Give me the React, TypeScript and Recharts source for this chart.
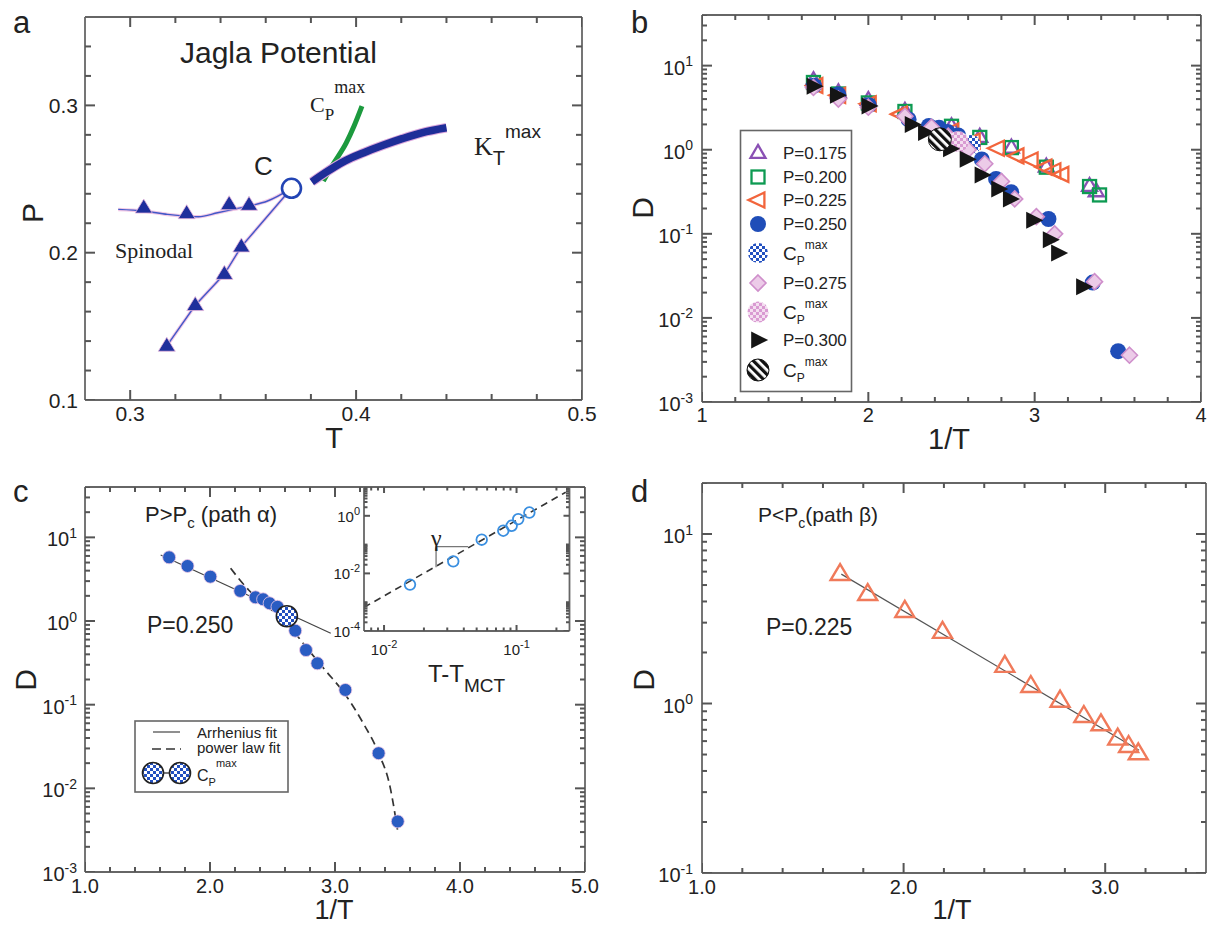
import React from 'react';
import { ComposedChart, Scatter, Line, XAxis, YAxis } from 'recharts';

const SANS = '"Liberation Sans", Arial, Helvetica, sans-serif';
const SERIF = '"Liberation Serif", "Times New Roman", serif';
const AX = '#666666';
const TK = '#555555';
const TX = '#222222';

// ---------------- Panel a : phase diagram ----------------
const spinUpperT = [0.2947, 0.306, 0.3165, 0.3302, 0.3387, 0.3455, 0.354, 0.3608, 0.3714];
const spinUpperP = [0.2294, 0.2283, 0.226, 0.2244, 0.2271, 0.2294, 0.2321, 0.2351, 0.2437];
const spinUpperMarkT = [0.306, 0.325, 0.3438, 0.3526];
const spinUpperMarkP = [0.2305, 0.2267, 0.2328, 0.2324];
const spinLowerT = [0.3162, 0.3288, 0.3417, 0.3492, 0.3714];
const spinLowerP = [0.1367, 0.1643, 0.1855, 0.2041, 0.2437];
const spinLowerMarkT = [0.3162, 0.3288, 0.3417, 0.3492];
const spinLowerMarkP = [0.1367, 0.1643, 0.1855, 0.2041];
const criticalT = [0.3714];
const criticalP = [0.2437];
const ktMaxT = [0.3804, 0.3864, 0.3949, 0.4034, 0.4119, 0.4204, 0.429, 0.44];
const ktMaxP = [0.248, 0.2543, 0.2622, 0.2679, 0.2729, 0.2774, 0.2814, 0.2848];
const cpMaxT = [0.3855, 0.3898, 0.3957, 0.3991, 0.4026];
const cpMaxP = [0.2486, 0.26, 0.2747, 0.286, 0.2995];

const aXMajor = [0.3, 0.4, 0.5];
const aXLabels = ['0.3', '0.4', '0.5'];
const aYMajor = [0.1, 0.2, 0.3];
const aYLabels = ['0.1', '0.2', '0.3'];

// ---------------- Panel b : D vs 1/T, all pressures ----------------
const b175X = [1.67, 1.82, 2.0, 2.22, 2.5, 2.67, 2.86, 3.07, 3.33, 3.37];
const b175D = [6.7, 4.8, 3.9, 2.9, 1.9, 1.42, 1.06, 0.63, 0.37, 0.32];
const b200X = [1.67, 1.82, 2.0, 2.22, 2.5, 2.67, 2.86, 3.07, 3.33, 3.39];
const b200D = [6.3, 4.6, 3.6, 2.85, 1.9, 1.4, 1.06, 0.62, 0.365, 0.29];
const b225X = [1.685, 1.822, 2.006, 2.193, 2.502, 2.631, 2.776, 2.894, 2.979, 3.062, 3.116, 3.164];
const b225D = [5.81, 4.43, 3.52, 2.65, 1.67, 1.27, 1.04, 0.845, 0.755, 0.621, 0.562, 0.509];
const b250X = [1.673, 1.82, 2.003, 2.242, 2.364, 2.425, 2.477, 2.54, 2.682, 2.768, 2.859, 3.083, 3.349, 3.502];
const b250D = [5.77, 4.55, 3.39, 2.29, 1.92, 1.82, 1.63, 1.48, 0.767, 0.45, 0.312, 0.15, 0.0263, 0.00402];
const cp250X = [2.615];
const cp250D = [1.14];
const b275X = [1.67, 1.82, 2.0, 2.22, 2.38, 2.48, 2.6, 2.7, 2.8, 2.88, 3.01, 3.12, 3.36, 3.57];
const b275D = [5.5, 4.0, 3.2, 2.5, 1.85, 1.45, 1.0, 0.68, 0.42, 0.26, 0.16, 0.1, 0.027, 0.0036];
const cp275X = [2.54];
const cp275D = [1.25];
const b300X = [1.67, 1.81, 2.0, 2.26, 2.34, 2.49, 2.59, 2.68, 2.78, 2.85, 2.99, 3.09, 3.14, 3.29];
const b300D = [5.7, 4.45, 3.3, 2.0, 1.6, 1.03, 0.77, 0.5, 0.34, 0.26, 0.145, 0.085, 0.059, 0.0235];
const cp300X = [2.43];
const cp300D = [1.33];

const bXMajor = [1, 2, 3, 4];
const bXLabels = ['1', '2', '3', '4'];
const bYMajor = [0.001, 0.01, 0.1, 1, 10];

// ---------------- Panel c : P = 0.250 with fits ----------------
const arrheniusX = [1.6055, 2.966];
const arrheniusD = [6.15, 0.714];
const powerX = [2.165, 2.309, 2.462, 2.615, 2.768, 2.92, 3.073, 3.226, 3.349, 3.44, 3.5];
const powerD = [4.27, 2.35, 1.49, 0.94, 0.49, 0.26, 0.138, 0.06, 0.0263, 0.0105, 0.0032];
const cXMajor = [1, 2, 3, 4, 5];
const cXLabels = ['1.0', '2.0', '3.0', '4.0', '5.0'];

// inset: D vs T - T_MCT
const insetX = [0.0157, 0.0333, 0.0546, 0.0794, 0.0919, 0.103, 0.125];
const insetD = [0.00409, 0.0262, 0.148, 0.303, 0.451, 0.769, 1.3];
const insetFitX = [0.00706, 0.235];
const insetFitD = [0.00066, 6.6];
const gammaX = [0.0247, 0.0247, 0.0432];
const gammaD = [0.0163, 0.0846, 0.0846];
const insetXMajor = [0.01, 0.1];
const insetYMajor = [0.0001, 0.01, 1];

// ---------------- Panel d : P = 0.225 ----------------
const dX = [1.685, 1.822, 2.006, 2.193, 2.502, 2.631, 2.776, 2.894, 2.979, 3.062, 3.116, 3.164];
const dD = [5.81, 4.43, 3.52, 2.65, 1.67, 1.27, 1.04, 0.845, 0.755, 0.621, 0.562, 0.509];
const dFitX = [1.691, 3.168];
const dFitD = [5.8, 0.53];
const dXMajor = [1, 2, 3];
const dXLabels = ['1.0', '2.0', '3.0'];
const dYMajor = [0.1, 1, 10];

// ---------------- helpers ----------------
const pts = (xs: number[], ys: number[]) => xs.map((x, i) => ({ x, y: ys[i] }));
const range = (a: number, b: number, s: number) => {
  const n = Math.round((b - a) / s);
  return Array.from({ length: n + 1 }, (_, i) => Number((a + i * s).toFixed(6)));
};
const logTicks = (kmin: number, kmax: number, hi: number) => {
  const out: number[] = [];
  for (let k = kmin; k <= kmax; k++)
    for (let m = 1; m <= 9; m++) {
      const v = Number((m * Math.pow(10, k)).toPrecision(6));
      if (v <= hi * 1.000001) out.push(v);
    }
  return out;
};
const isMajor = (v: number, major: number[]) => major.some((m) => Math.abs(m - v) <= Math.abs(m) * 1e-6);

type LabelFn = (v: number) => React.ReactNode;
const linLabel = (major: number[], labels: string[]): LabelFn => (v) => {
  const i = major.findIndex((m) => Math.abs(m - v) <= Math.abs(m) * 1e-6);
  return i >= 0 ? labels[i] : '';
};
const powLabel = (supFs: number, supDy: number): LabelFn => (v) => {
  const k = Math.round(Math.log10(v));
  return [
    <tspan key="b">10</tspan>,
    <tspan key="s" fontSize={supFs} dy={-supDy}>{String(k)}</tspan>,
  ];
};

const mkLabel = (side: 'bottom' | 'left', major: number[], label: LabelFn, fs: number, off: number, dy = 0) => (p: any) => {
  const x = Number(p.x);
  const y = Number(p.y);
  const v = Number(p.payload.value);
  if (!isMajor(v, major)) return <g />;
  const content = label(v);
  if (side === 'bottom')
    return (
      <text x={x} y={y + off} textAnchor="middle" fontSize={fs} fontFamily={SANS} fill={TX} stroke="none">
        {content}
      </text>
    );
  return (
    <text x={x - off} y={y + dy} textAnchor="end" fontSize={fs} fontFamily={SANS} fill={TX} stroke="none">
      {content}
    </text>
  );
};

type FrameOpt = {
  xDomain: [number, number];
  yDomain: [number, number];
  xLog?: boolean;
  yLog?: boolean;
  xTicks: number[];
  xMajor: number[];
  yTicks: number[];
  yMajor: number[];
  xLabel: LabelFn;
  yLabel: LabelFn;
  yWidth: number;
  xHeight: number;
  len: number;
  mlen: number;
  fs: number;
  xOff: number;
  yOff: number;
  yDy: number;
};
function frameAxes(o: FrameOpt) {
  const base: any = { type: 'number', allowDataOverflow: true, interval: 0 };
  const line = { stroke: AX, strokeWidth: 1.8 };
  const lab: any = { ...base, tickSize: 0, tickMargin: 0, tickLine: false, axisLine: line };
  const xs = o.xLog ? 'log' : 'linear';
  const ys = o.yLog ? 'log' : 'linear';
  const T = 0.4;
  return [
    <XAxis key="xb" xAxisId={0} dataKey="x" orientation="bottom" height={o.xHeight} domain={o.xDomain} scale={xs}
      ticks={o.xTicks} {...lab} tick={mkLabel('bottom', o.xMajor, o.xLabel, o.fs, o.xOff)} />,
    <YAxis key="yl" yAxisId={0} dataKey="y" orientation="left" width={o.yWidth} domain={o.yDomain} scale={ys}
      ticks={o.yTicks} {...lab} tick={mkLabel('left', o.yMajor, o.yLabel, o.fs, o.yOff, o.yDy)} />,
    <XAxis key="xt" xAxisId="t" orientation="top" mirror height={T} domain={o.xDomain} scale={xs}
      ticks={o.xMajor} {...base} tick={false} tickLine={false} axisLine={line} />,
    <YAxis key="yr" yAxisId="r" orientation="right" mirror width={T} domain={o.yDomain} scale={ys}
      ticks={o.yMajor} {...base} tick={false} tickLine={false} axisLine={line} />,
  ];
}

// inward tick marks, placed through the chart scales at the domain edges
function tickMarks(o: FrameOpt) {
  const [x0, x1] = o.xDomain;
  const [y0, y1] = o.yDomain;
  const xMaj = o.xTicks.filter((v) => isMajor(v, o.xMajor));
  const xMin = o.xTicks.filter((v) => !isMajor(v, o.xMajor));
  const yMaj = o.yTicks.filter((v) => isMajor(v, o.yMajor));
  const yMin = o.yTicks.filter((v) => !isMajor(v, o.yMajor));
  const ln = (dx: number, dy: number) => (p: any) => (
    <path d={`M${p.cx},${p.cy}L${p.cx + dx},${p.cy + dy}`} stroke={TK} strokeWidth={2} fill="none" />
  );
  const mk = (key: string, data: any[], dx: number, dy: number) => (
    <Scatter key={key} data={data} isAnimationActive={false} legendType="none" shape={ln(dx, dy)} />
  );
  return [
    mk('tb1', xMaj.map((x) => ({ x, y: y0 })), 0, -o.len),
    mk('tb2', xMin.map((x) => ({ x, y: y0 })), 0, -o.mlen),
    mk('tt1', xMaj.map((x) => ({ x, y: y1 })), 0, o.len),
    mk('tt2', xMin.map((x) => ({ x, y: y1 })), 0, o.mlen),
    mk('tl1', yMaj.map((y) => ({ x: x0, y })), o.len, 0),
    mk('tl2', yMin.map((y) => ({ x: x0, y })), o.mlen, 0),
    mk('tr1', yMaj.map((y) => ({ x: x1, y })), -o.len, 0),
    mk('tr2', yMin.map((y) => ({ x: x1, y })), -o.mlen, 0),
  ];
}

// ---------------- marker shapes ----------------
const TriUp = ({ cx, cy, w = 15, h = 13, stroke = 'none', fill = 'none', sw = 2.2 }: any) => (
  <path d={`M${cx},${cy - h * 0.62}L${cx + w / 2},${cy + h * 0.38}L${cx - w / 2},${cy + h * 0.38}Z`}
    fill={fill} stroke={stroke} strokeWidth={sw} />
);
const TriLeft = ({ cx, cy, w = 15, h = 14, stroke = 'none', fill = 'none', sw = 2.2 }: any) => (
  <path d={`M${cx - w * 0.6},${cy}L${cx + w * 0.4},${cy - h / 2}L${cx + w * 0.4},${cy + h / 2}Z`}
    fill={fill} stroke={stroke} strokeWidth={sw} />
);
const TriRight = ({ cx, cy, w = 15, h = 15, stroke = 'none', fill = 'none', sw = 0 }: any) => (
  <path d={`M${cx + w * 0.6},${cy}L${cx - w * 0.4},${cy - h / 2}L${cx - w * 0.4},${cy + h / 2}Z`}
    fill={fill} stroke={stroke} strokeWidth={sw} />
);
const Sq = ({ cx, cy, s = 12, stroke = '#0a9a50', sw = 2.2 }: any) => (
  <rect x={cx - s / 2} y={cy - s / 2} width={s} height={s} fill="none" stroke={stroke} strokeWidth={sw} />
);
const Dia = ({ cx, cy, s = 15, fill = '#eccbe8', stroke = '#cf8fcb', sw = 1.6 }: any) => (
  <path d={`M${cx},${cy - s / 2}L${cx + s / 2},${cy}L${cx},${cy + s / 2}L${cx - s / 2},${cy}Z`}
    fill={fill} stroke={stroke} strokeWidth={sw} />
);
const Dot = ({ cx, cy, r = 7, fill = '#1f4db8', stroke = 'none', sw = 0 }: any) => (
  <circle cx={cx} cy={cy} r={r} fill={fill} stroke={stroke} strokeWidth={sw} />
);

const BLUE = '#1f4db8';
const PURPLE = '#8a50b4';
const GREEN = '#0d9a52';
const ORANGE = '#f2653c';
const SALMON = '#f07a5a';

const sh = (f: (cx: number, cy: number) => any) => (p: any) => f(p.cx, p.cy);

// ---------------- panel frames ----------------
const frameA: FrameOpt = {
  xDomain: [0.28, 0.5], yDomain: [0.1, 0.36],
  xTicks: range(0.3, 0.48, 0.02), xMajor: aXMajor, yTicks: range(0.12, 0.34, 0.02), yMajor: aYMajor,
  xLabel: linLabel(aXMajor, aXLabels), yLabel: linLabel(aYMajor, aYLabels),
  yWidth: 85, xHeight: 30, len: 10, mlen: 6, fs: 21, xOff: 21, yOff: 7, yDy: 7.5,
};
const frameB: FrameOpt = {
  xDomain: [1, 4], yDomain: [0.001, 40], yLog: true,
  xTicks: range(1.2, 3.8, 0.2), xMajor: bXMajor, yTicks: logTicks(-3, 1, 40).slice(1), yMajor: bYMajor,
  xLabel: linLabel(bXMajor, bXLabels), yLabel: powLabel(14, 8.5),
  yWidth: 102, xHeight: 30, len: 10, mlen: 5, fs: 20, xOff: 20, yOff: 9, yDy: 9,
};
const frameC: FrameOpt = {
  xDomain: [1, 5], yDomain: [0.001, 40], yLog: true,
  xTicks: range(1.2, 4.8, 0.2), xMajor: cXMajor, yTicks: logTicks(-3, 1, 40).slice(1), yMajor: bYMajor,
  xLabel: linLabel(cXMajor, cXLabels), yLabel: powLabel(14, 8.5),
  yWidth: 85, xHeight: 30, len: 10, mlen: 5, fs: 20, xOff: 21, yOff: 8, yDy: 9,
};
const frameInset: FrameOpt = {
  xDomain: [0.00706, 0.251], yDomain: [0.0001, 10], xLog: true, yLog: true,
  xTicks: [0.008, 0.009, ...logTicks(-2, -2, 1), 0.1, 0.2], xMajor: insetXMajor,
  yTicks: [...logTicks(-4, -4, 10).slice(1), 0.001, ...logTicks(-2, -2, 10), 0.1, ...logTicks(0, 0, 10)], yMajor: insetYMajor,
  xLabel: powLabel(11, 7), yLabel: powLabel(11, 7),
  yWidth: 64, xHeight: 30, len: 6, mlen: 3.5, fs: 15, xOff: 24, yOff: 4, yDy: 6,
};
const frameD: FrameOpt = {
  xDomain: [1, 3.5], yDomain: [0.1, 20], yLog: true,
  xTicks: range(1.2, 3.4, 0.2), xMajor: dXMajor, yTicks: logTicks(-1, 1, 20).slice(1), yMajor: dYMajor,
  xLabel: linLabel(dXMajor, dXLabels), yLabel: powLabel(14, 8.5),
  yWidth: 102, xHeight: 30, len: 10, mlen: 5, fs: 20, xOff: 21, yOff: 9, yDy: 9,
};
const withMaj = (f: FrameOpt): FrameOpt => ({
  ...f,
  xTicks: Array.from(new Set([...f.xMajor, ...f.xTicks])).sort((a, b) => a - b),
  yTicks: Array.from(new Set([...f.yMajor, ...f.yTicks])).sort((a, b) => a - b),
});

// ---------------- panels ----------------
function PanelA() {
  const lp: any = { dataKey: 'y', dot: false, activeDot: false, isAnimationActive: false, legendType: 'none' };
  const f = withMaj(frameA);
  return (
    <ComposedChart width={600} height={460} margin={{ top: 17, right: 18, bottom: 30, left: 0 }}>
      {frameAxes(f)}
      {tickMarks(f)}
      <Line {...lp} data={pts(spinUpperT, spinUpperP)} type="monotone" stroke="#f2c8e6" strokeWidth={3.5} />
      <Line {...lp} data={pts(spinUpperT, spinUpperP)} type="monotone" stroke="#4258c8" strokeWidth={1.4} />
      <Line {...lp} data={pts(spinLowerT, spinLowerP)} type="linear" stroke="#f2c8e6" strokeWidth={3.5} />
      <Line {...lp} data={pts(spinLowerT, spinLowerP)} type="linear" stroke="#4258c8" strokeWidth={1.4} />
      <Line {...lp} data={pts(cpMaxT, cpMaxP)} type="monotone" stroke="#1c9a3e" strokeWidth={5} />
      <Line {...lp} data={pts(ktMaxT, ktMaxP)} type="monotone" stroke="#dba6dc" strokeWidth={9.5} />
      <Line {...lp} data={pts(ktMaxT, ktMaxP)} type="monotone" stroke="#1e2e98" strokeWidth={7.5} />
      <Scatter data={pts(spinUpperMarkT, spinUpperMarkP)} isAnimationActive={false}
        shape={sh((cx, cy) => <TriUp cx={cx} cy={cy} w={17} h={14} fill="#1e2f9c" stroke="#e9b8dd" sw={0.8} />)} />
      <Scatter data={pts(spinLowerMarkT, spinLowerMarkP)} isAnimationActive={false}
        shape={sh((cx, cy) => <TriUp cx={cx} cy={cy} w={17} h={14} fill="#1e2f9c" stroke="#e9b8dd" sw={0.8} />)} />
      <Scatter data={pts(criticalT, criticalP)} isAnimationActive={false}
        shape={sh((cx, cy) => <circle cx={cx} cy={cy} r={9.5} fill="#fff" stroke="#2244b4" strokeWidth={2.6} />)} />
    </ComposedChart>
  );
}

function PanelB() {
  const f = withMaj(frameB);
  return (
    <ComposedChart width={611} height={460} margin={{ top: 15, right: 10, bottom: 28, left: 0 }}>
      {frameAxes(f)}
      {tickMarks(f)}
      <Scatter data={pts(b175X, b175D)} isAnimationActive={false}
        shape={sh((cx, cy) => <TriUp cx={cx} cy={cy} w={15} h={13} stroke={PURPLE} sw={2.3} />)} />
      <Scatter data={pts(b200X, b200D)} isAnimationActive={false}
        shape={sh((cx, cy) => <Sq cx={cx} cy={cy} s={13} stroke={GREEN} sw={2.3} />)} />
      <Scatter data={pts(b225X, b225D)} isAnimationActive={false}
        shape={sh((cx, cy) => <TriLeft cx={cx} cy={cy} w={16} h={15} stroke={ORANGE} sw={2.3} />)} />
      <Scatter data={pts(b250X, b250D)} isAnimationActive={false}
        shape={sh((cx, cy) => <Dot cx={cx} cy={cy} r={8} fill={BLUE} />)} />
      <Scatter data={pts(cp250X, cp250D)} isAnimationActive={false}
        shape={sh((cx, cy) => <Dot cx={cx} cy={cy} r={10} fill="url(#chkBlue)" />)} />
      <Scatter data={pts(b275X, b275D)} isAnimationActive={false}
        shape={sh((cx, cy) => <Dia cx={cx} cy={cy} s={16} />)} />
      <Scatter data={pts(cp275X, cp275D)} isAnimationActive={false}
        shape={sh((cx, cy) => <Dot cx={cx} cy={cy} r={10.5} fill="url(#chkPink)" />)} />
      <Scatter data={pts(b300X, b300D)} isAnimationActive={false}
        shape={sh((cx, cy) => <TriRight cx={cx} cy={cy} w={17} h={17} fill="#151515" />)} />
      <Scatter data={pts(cp300X, cp300D)} isAnimationActive={false}
        shape={sh((cx, cy) => <Dot cx={cx} cy={cy} r={11.5} fill="url(#hatch)" stroke="#111" sw={1} />)} />
    </ComposedChart>
  );
}

function PanelC() {
  const lp: any = { dataKey: 'y', dot: false, activeDot: false, isAnimationActive: false, legendType: 'none' };
  const f = withMaj(frameC);
  return (
    <ComposedChart width={600} height={465} margin={{ top: 27, right: 15, bottom: 23, left: 0 }}>
      {frameAxes(f)}
      {tickMarks(f)}
      <Scatter data={pts(b250X, b250D)} isAnimationActive={false}
        shape={sh((cx, cy) => <Dot cx={cx} cy={cy} r={6.5} fill="#2a5cc2" stroke="#f0c8e4" sw={0.8} />)} />
      <Line {...lp} data={pts(arrheniusX, arrheniusD)} type="linear" stroke="#444" strokeWidth={1.2} />
      <Line {...lp} data={pts(powerX, powerD)} type="monotone" stroke="#333" strokeWidth={1.7} strokeDasharray="8 5" />
      <Scatter data={pts(cp250X, cp250D)} isAnimationActive={false}
        shape={sh((cx, cy) => <Dot cx={cx} cy={cy} r={10.5} fill="url(#chkBlue)" stroke="#222" sw={1.6} />)} />
    </ComposedChart>
  );
}

function Inset() {
  const lp: any = { dataKey: 'y', dot: false, activeDot: false, isAnimationActive: false, legendType: 'none' };
  const f = withMaj(frameInset);
  return (
    <ComposedChart width={280} height={200} margin={{ top: 17, right: 10.5, bottom: 9, left: 0 }}>
      {frameAxes(f)}
      {tickMarks(f)}
      <Line {...lp} data={pts(insetFitX, insetFitD)} type="linear" stroke="#333" strokeWidth={1.6} strokeDasharray="7 5" />
      <Line {...lp} data={pts(gammaX, gammaD)} type="linear" stroke="#777" strokeWidth={1.3} />
      <Scatter data={pts(insetX, insetD)} isAnimationActive={false}
        shape={sh((cx, cy) => <circle cx={cx} cy={cy} r={5.3} fill="none" stroke="#3a8fe0" strokeWidth={1.8} />)} />
    </ComposedChart>
  );
}

function PanelD() {
  const lp: any = { dataKey: 'y', dot: false, activeDot: false, isAnimationActive: false, legendType: 'none' };
  const f = withMaj(frameD);
  return (
    <ComposedChart width={611} height={465} margin={{ top: 23, right: 5, bottom: 22, left: 0 }}>
      {frameAxes(f)}
      {tickMarks(f)}
      <Scatter data={pts(dX, dD)} isAnimationActive={false}
        shape={sh((cx, cy) => <TriUp cx={cx} cy={cy} w={19} h={16} stroke={SALMON} sw={2.4} />)} />
      <Line {...lp} data={pts(dFitX, dFitD)} type="linear" stroke="#555" strokeWidth={1.2} />
    </ComposedChart>
  );
}

// ---------------- text overlay ----------------
const Cp = ({ x, y, fs, sfs, subDy, supDy, family = SANS }: any) => (
  <text x={x} y={y} fontSize={fs} fontFamily={family} fill={TX}>
    C<tspan fontSize={sfs} dy={subDy}>P</tspan>
    <tspan fontSize={sfs} dy={-supDy}>max</tspan>
  </text>
);

function Overlay() {
  const t = (x: number, y: number, s: string, fs: number, extra: any = {}) => (
    <text x={x} y={y} fontSize={fs} fontFamily={SANS} fill={TX} {...extra}>{s}</text>
  );
  const vt = (x: number, y: number, s: string, fs: number) => (
    <text transform={`translate(${x},${y}) rotate(-90)`} textAnchor="middle" dy="0.36em" fontSize={fs} fontFamily={SANS} fill={TX}>{s}</text>
  );
  const legB = [
    { y: 153, lab: 'P=0.175', sym: <TriUp cx={758} cy={153} w={15} h={13} stroke={PURPLE} sw={2.3} /> },
    { y: 177, lab: 'P=0.200', sym: <Sq cx={758} cy={177} s={13} stroke={GREEN} sw={2.3} /> },
    { y: 200, lab: 'P=0.225', sym: <TriLeft cx={758} cy={200} w={16} h={15} stroke={ORANGE} sw={2.3} /> },
    { y: 224, lab: 'P=0.250', sym: <Dot cx={758} cy={224} r={8} fill={BLUE} /> },
    { y: 253, lab: null, sym: <Dot cx={758} cy={253} r={10} fill="url(#chkBlue)" /> },
    { y: 283, lab: 'P=0.275', sym: <Dia cx={758} cy={283} s={16} /> },
    { y: 312, lab: null, sym: <Dot cx={758} cy={312} r={10.5} fill="url(#chkPink)" /> },
    { y: 340, lab: 'P=0.300', sym: <TriRight cx={758} cy={340} w={17} h={17} fill="#151515" /> },
    { y: 370, lab: null, sym: <Dot cx={758} cy={370} r={11} fill="url(#hatch)" stroke="#111" sw={1} /> },
  ];
  return (
    <svg width={1211} height={925} style={{ position: 'absolute', left: 0, top: 0, pointerEvents: 'none' }}>
      {t(13, 33, 'a', 31)}
      {t(631, 33, 'b', 31)}
      {t(13, 502, 'c', 31)}
      {t(631, 502, 'd', 31)}

      {vt(32, 213, 'P', 30)}
      {t(334, 448, 'T', 29, { textAnchor: 'middle' })}
      {vt(642, 208, 'D', 30)}
      {t(949, 449, '1/T', 29, { textAnchor: 'middle' })}
      {vt(25, 680, 'D', 30)}
      {t(334, 919, '1/T', 27, { textAnchor: 'middle' })}
      {vt(643, 680, 'D', 30)}
      {t(952, 919, '1/T', 27, { textAnchor: 'middle' })}

      {t(180, 63, 'Jagla Potential', 30)}
      {t(254, 175, 'C', 26)}
      <text x={310} y={112} fontSize={22} fontFamily={SERIF} fill={TX}>
        C<tspan fontSize={17} dy={8}>P</tspan>
        <tspan fontSize={18} dy={-27}>max</tspan>
      </text>
      <text x={474} y={155} fontSize={26} fontFamily={SERIF} fill={TX}>
        K<tspan fontSize={20} dy={10} fontFamily={SANS}>T</tspan>
        <tspan fontSize={19} dy={-27} fontFamily={SANS}>max</tspan>
      </text>
      <text x={115} y={258} fontSize={22} fontFamily={SERIF} fill={TX}>Spinodal</text>

      <rect x={740.5} y={130.5} width={111} height={261} fill="#fff" stroke={AX} strokeWidth={1.6} />
      {legB.map((r, i) => (
        <g key={i}>
          {r.sym}
          {r.lab ? t(783, r.y + 6, r.lab, 17) : <Cp x={783} y={r.y + 7} fs={19} sfs={12} subDy={4.5} supDy={16} />}
        </g>
      ))}

      <text x={145} y={522} fontSize={22} fontFamily={SANS} fill={TX}>
        P&gt;P<tspan fontSize={15} dy={6}>c</tspan>
        <tspan dy={-6}> (path α)</tspan>
      </text>
      {t(147, 633, 'P=0.250', 23)}
      <text x={428} y={682} fontSize={24} fontFamily={SANS} fill={TX}>
        T-T<tspan fontSize={19} dy={10}>MCT</tspan>
      </text>
      <text x={431} y={546} fontSize={24} fontFamily={SERIF} fill={TX}>γ</text>

      <rect x={135} y={721} width={153} height={71} fill="#fff" stroke={AX} strokeWidth={1.6} />
      <line x1={153} x2={180} y1={732} y2={732} stroke="#444" strokeWidth={1.2} />
      {t(197, 737.5, 'Arrhenius fit', 15)}
      <line x1={152} x2={181} y1={749} y2={749} stroke="#333" strokeWidth={1.6} strokeDasharray="9 5" />
      {t(197, 753, 'power law fit', 15)}
      <line x1={153} x2={180} y1={773} y2={773} stroke="#333" strokeWidth={1.3} />
      <Dot cx={153} cy={773} r={10.5} fill="url(#chkBlue)" stroke="#222" sw={1.6} />
      <Dot cx={180} cy={773} r={10.5} fill="url(#chkBlue)" stroke="#222" sw={1.6} />
      <Cp x={197} y={781} fs={16} sfs={11} subDy={5} supDy={19} />

      <text x={758} y={522} fontSize={21} fontFamily={SANS} fill={TX}>
        P&lt;P<tspan fontSize={14} dy={6}>c</tspan>
        <tspan dy={-6}>(path β)</tspan>
      </text>
      {t(766, 635, 'P=0.225', 23)}
    </svg>
  );
}

export default function App() {
  return (
    <div style={{ position: 'absolute', left: 0, top: 0, width: 1211, height: 925, background: '#fff', overflow: 'hidden' }}>
      <svg width={0} height={0} style={{ position: 'absolute' }}>
        <defs>
          <pattern id="chkBlue" width={6} height={6} patternUnits="userSpaceOnUse">
            <rect width={6} height={6} fill="#ffffff" />
            <rect width={3} height={3} fill="#2250c0" />
            <rect x={3} y={3} width={3} height={3} fill="#2250c0" />
          </pattern>
          <pattern id="chkPink" width={6} height={6} patternUnits="userSpaceOnUse">
            <rect width={6} height={6} fill="#f4def0" />
            <rect width={3} height={3} fill="#d99ad2" />
            <rect x={3} y={3} width={3} height={3} fill="#d99ad2" />
          </pattern>
          <pattern id="hatch" width={6} height={6} patternUnits="userSpaceOnUse" patternTransform="rotate(-45)">
            <rect width={6} height={6} fill="#ffffff" />
            <rect width={3.2} height={6} fill="#111111" />
          </pattern>
        </defs>
      </svg>
      <div style={{ position: 'absolute', left: 0, top: 0 }}><PanelA /></div>
      <div style={{ position: 'absolute', left: 600, top: 0 }}><PanelB /></div>
      <div style={{ position: 'absolute', left: 0, top: 460 }}><PanelC /></div>
      <div style={{ position: 'absolute', left: 364, top: 487, width: 205.5, height: 144, background: '#fff' }} />
      <div style={{ position: 'absolute', left: 300, top: 470 }}><Inset /></div>
      <div style={{ position: 'absolute', left: 600, top: 460 }}><PanelD /></div>
      <Overlay />
    </div>
  );
}
